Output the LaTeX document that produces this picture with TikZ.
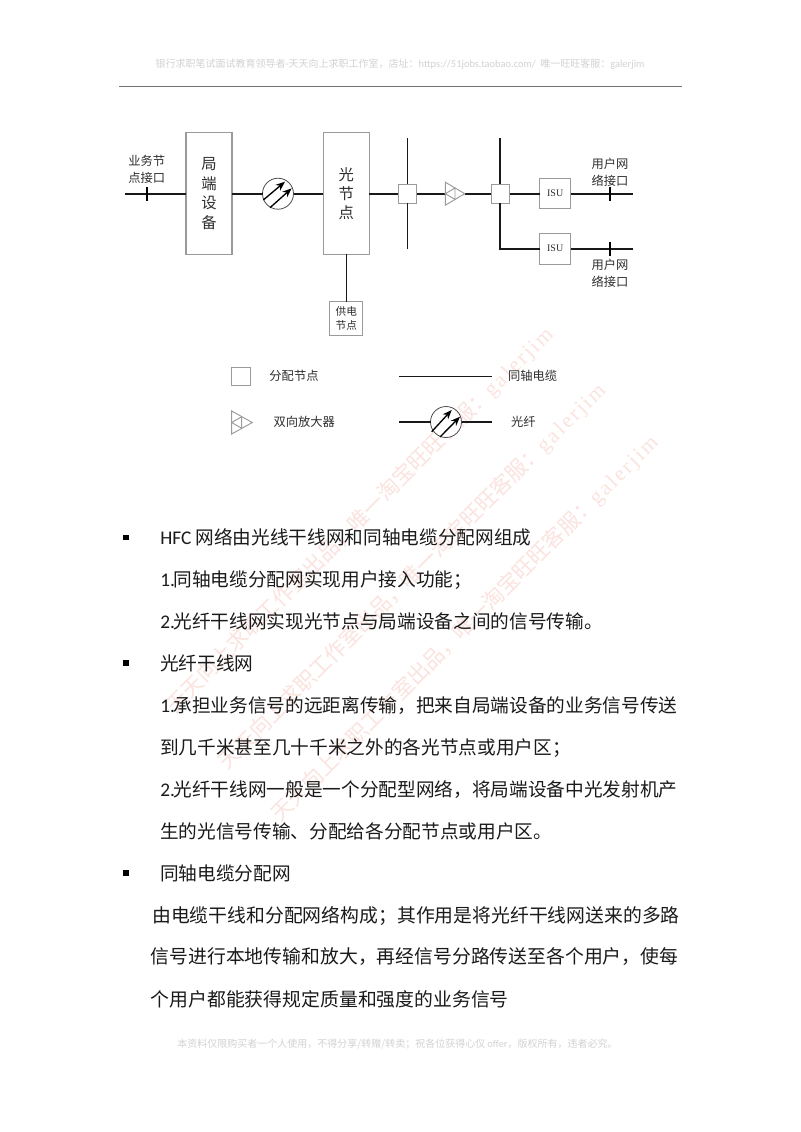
\documentclass[tikz,border=0pt]{standalone}
\usepackage{fontspec}
\usetikzlibrary{arrows.meta,calc}
\setmainfont{Noto Sans CJK SC}
\newfontfamily\latinbody{Carlito}
\newfontfamily\serifl{Liberation Serif}
\newfontfamily\wmlatin[LetterSpace=11]{Liberation Serif}
\definecolor{hdr}{HTML}{D2D2D2}
\definecolor{wm}{HTML}{FBE3DF}
\definecolor{frameg}{HTML}{9A9A9A}
\definecolor{lbl}{HTML}{2E2E2E}
\definecolor{bodyc}{HTML}{1A1A1A}
\newcommand{\hl}[1]{{\latinbody\fontsize{7.8pt}{9pt}\selectfont #1}}
\newcommand{\bl}[1]{{\latinbody\fontsize{14.5pt}{17pt}\selectfont #1}}
\newcommand{\num}[1]{{\latinbody\fontsize{14.5pt}{17pt}\selectfont #1}\hspace{-1.2pt}}
\newcommand{\wmtext}{天天向上求职工作室出品，唯一淘宝旺旺客服：{\wmlatin galerjim}}
\tikzset{
  pxbox/.style n args={2}{draw=frameg,line width=0.8pt,fill=white,rectangle,inner sep=0pt,outer sep=0pt,minimum width=#1*0.75pt,minimum height=#2*0.75pt,text=lbl},
  ampbox/.style={rectangle,inner sep=0pt,outer sep=0pt,minimum width=19.4*0.75pt,minimum height=23*0.75pt},
  ampline/.style={draw=frameg,line width=0.7pt,line join=miter},
  fibre/.style={circle,draw=black!70,line width=0.6pt,fill=white,inner sep=0pt,outer sep=0pt,minimum size=31*0.75pt},
  wire/.style={draw=black!90,line width=1.2pt},
  fibrearrow/.style={draw=black,line width=1pt,-{Stealth[length=7pt,width=5.5pt]}},
  tick/.style={draw=black,line width=1.2pt},
  lab/.style={text=lbl,inner sep=0pt,align=center,font=\fontsize{9.2pt}{13pt}\selectfont},
  para/.style={text=bodyc,inner sep=0pt,anchor=base west,font=\fontsize{14pt}{17pt}\selectfont},
  parb/.style={text=bodyc,inner sep=0pt,anchor=base west,font=\fontsize{14.13pt}{17pt}\selectfont},
  bul/.style={rectangle,fill=black,inner sep=0pt,minimum size=4.2pt},
  water/.style={text=wm,inner sep=0pt,rotate=45,font=\fontsize{16pt}{18pt}\selectfont},
  hf/.style={text=hdr,inner sep=0pt,font=\fontsize{7.5pt}{9pt}\selectfont},
}
\begin{document}
\begin{tikzpicture}[x=0.75pt,y=-0.75pt]
\useasboundingbox (0,0) rectangle (800,1132);
\fill[white] (0,0) rectangle (800,1132);
% watermarks
\node[water] (w1) at (360,520) {\wmtext};
\node[water] (w2) at (412.5,576) {\wmtext};
\node[water] (w3) at (465,628.5) {\wmtext};
% header, footer
\node[hf] (head) at (400,64) {银行求职笔试面试教育领导者\hl{-}天天向上求职工作室，店址：\hl{https://51jobs.taobao.com/}\ \ 唯一旺旺客服：\hl{galerjim}};
\coordinate (ruleL) at (119,86.7);
\coordinate (ruleR) at (682,86.7);
\draw[draw=black!55,line width=1.1pt] (ruleL) -- (ruleR);
\node[hf] (foot) at (397.5,1044) {本资料仅限购买者一个人使用，不得分享/转赠/转卖；祝各位获得心仪 \hl{offer}，版权所有，违者必究。};
% main boxes
\node[pxbox={46}{121.5},align=center,font=\fontsize{11.5pt}{14.8pt}\selectfont] (hub) at (209,193.5) {局\\端\\设\\备};
\node[pxbox={46}{121.5},align=center,font=\fontsize{11.5pt}{14.3pt}\selectfont] (onode) at (346.3,193.5) {光\\节\\点};
\node[pxbox={33}{33.6},align=center,font=\fontsize{8pt}{10.5pt}\selectfont] (power) at (346.3,318.5) {供电\\节点};
\node[fibre] (f1) at (278,193.7) {};
\node[pxbox={18.4}{18.7}] (n1) at (407.5,193.7) {};
\node[ampbox] (amp) at (455,193.7) {};
\node[pxbox={18.4}{18.7}] (n2) at (500.5,193.7) {};
\node[pxbox={31}{30.4},font=\serifl\fontsize{7.5pt}{9pt}\selectfont] (isu1) at (555.2,193.5) {ISU};
\node[pxbox={31}{30.7},font=\serifl\fontsize{7.5pt}{9pt}\selectfont] (isu2) at (555.2,248.7) {ISU};
% free ends
\coordinate (inL) at (125,193.7);
\coordinate (tk1a) at (146.7,186.7); \coordinate (tk1b) at (146.7,200.7);
\coordinate (n1t) at (407.5,138.3); \coordinate (n1b) at (407.5,249.3);
\coordinate (n2t) at (500,138.3);
\coordinate (out1) at (632.7,193.7); \coordinate (out2) at (632.7,248.7);
\coordinate (tk2a) at (610,186.7); \coordinate (tk2b) at (610,200.7);
\coordinate (tk3a) at (610,241.7); \coordinate (tk3b) at (610,255.7);
% wires
\draw[wire] (inL) -- (hub.west |- inL);
\draw[tick] (tk1a) -- (tk1b);
\draw[wire] (hub.east |- f1) -- (f1.west);
\draw[wire] (f1.east) -- (onode.west |- f1);
\draw[wire] (onode.south) -- (power.north);
\draw[wire] (onode.east |- n1) -- (n1.west);
\draw[wire] (n1t) -- (n1.north -| n1t);
\draw[wire] (n1.south -| n1b) -- (n1b);
\draw[wire] (n1.east) -- (amp.west);
\draw[wire] (amp.east) -- (n2.west);
\draw[wire] (n2t) -- (n2.north -| n2t);
\draw[wire] (n2.south -| n2t) |- (isu2.west);
\draw[wire] (n2.east) -- (isu1.west |- n2);
\draw[wire] (isu1.east |- out1) -- (out1);
\draw[wire] (isu2.east) -- (out2);
\draw[tick] (tk2a) -- (tk2b);
\draw[tick] (tk3a) -- (tk3b);
% fibre arrows
\draw[fibrearrow] ($(f1)+(-14.7,6.3)$) -- ($(f1)+(7,-12)$);
\draw[fibrearrow] ($(f1)+(-8,14)$) -- ($(f1)+(13.7,-5.4)$);
% amplifier
\draw[ampline] (amp.north west) -- (amp.east) -- (amp.south west) -- cycle;
\draw[ampline] (amp.west) -- ($(amp.west)+(9.7,-5.7)$) -- ($(amp.west)+(9.7,5.7)$) -- cycle;
% labels
\node[lab] (l1) at (146.7,169.3) {业务节\\点接口};
\node[lab] (l2) at (610,172) {用户网\\络接口};
\node[lab] (l3) at (610,273) {用户网\\络接口};
% legend
\node[pxbox={19}{18.4}] (lgn) at (241.2,376.5) {};
\node[lab] (lgnt) at (294,376) {分配节点};
\coordinate (cabA) at (399.3,376.3); \coordinate (cabB) at (492.3,376.3);
\draw[wire] (cabA) -- (cabB);
\node[lab] (cabt) at (532.7,376) {同轴电缆};
\node[ampbox,minimum width=20.6*0.75pt] (lga) at (242,422.5) {};
\draw[ampline] (lga.north west) -- (lga.east) -- (lga.south west) -- cycle;
\draw[ampline] (lga.west) -- ($(lga.west)+(10,-5.8)$) -- ($(lga.west)+(10,5.8)$) -- cycle;
\node[lab] (lgat) at (304.3,421.7) {双向放大器};
\node[fibre] (lgf) at (446,422) {};
\coordinate (fbA) at (399.3,422); \coordinate (fbB) at (492.3,422);
\draw[wire] (fbA) -- (lgf.west);
\draw[wire] (lgf.east) -- (fbB);
\draw[fibrearrow] ($(lgf)+(-14.3,9.7)$) -- ($(lgf)+(5.7,-12)$);
\draw[fibrearrow] ($(lgf)+(-6,15)$) -- ($(lgf)+(14,-5.3)$);
\node[lab] (lgft) at (523.3,422) {光纤};
% body text
\node[bul] (b1) at (126,537.5) {};
\node[bul] (b2) at (126,663) {};
\node[bul] (b3) at (126,873) {};
\node[para] (p1) at (160,544.5) {\bl{HFC} 网络由光线干线网和同轴电缆分配网组成};
\node[para] (p2) at (160,586) {\num{1.}同轴电缆分配网实现用户接入功能；};
\node[para] (p3) at (160,628.7) {\num{2.}光纤干线网实现光节点与局端设备之间的信号传输。};
\node[para] (p4) at (160,670) {光纤干线网};
\node[para] (p5) at (160,712) {\num{1.}承担业务信号的远距离传输，把来自局端设备的业务信号传送};
\node[para] (p6) at (160,754) {到几千米甚至几十千米之外的各光节点或用户区；};
\node[para] (p7) at (160,796) {\num{2.}光纤干线网一般是一个分配型网络，将局端设备中光发射机产};
\node[para] (p8) at (160,838.7) {生的光信号传输、分配给各分配节点或用户区。};
\node[para] (p9) at (160,880) {同轴电缆分配网};
\node[parb] (p10) at (152,922) {由电缆干线和分配网络构成；其作用是将光纤干线网送来的多路};
\node[parb] (p11) at (150.5,963.7) {信号进行本地传输和放大，再经信号分路传送至各个用户，使每};
\node[parb] (p12) at (150.5,1006) {个用户都能获得规定质量和强度的业务信号};
\end{tikzpicture}
\end{document}
